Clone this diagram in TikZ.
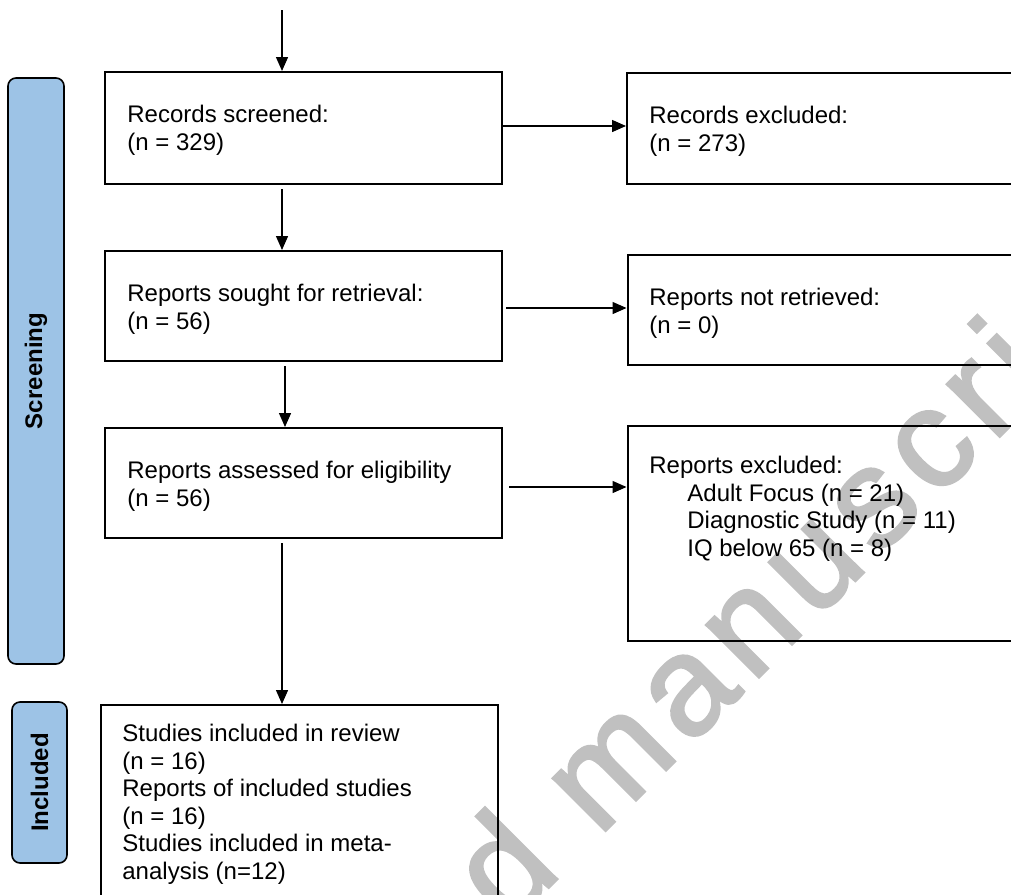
\documentclass[tikz,border=0pt]{standalone}
\usepackage{fontspec}
\setmainfont{Liberation Sans}
\newfontfamily\wmfont[LetterSpace=8,FakeBold=2]{Liberation Sans}
\usetikzlibrary{arrows.meta}
\definecolor{barblue}{HTML}{9DC3E6}
\definecolor{wmgrey}{HTML}{C0C0C0}
\tikzset{
  box/.style={draw=black, line width=1pt, inner sep=0pt},
  bar/.style={draw=black, line width=0.8pt, fill=barblue, rounded corners=4pt, inner sep=0pt},
  txt/.style={anchor=north west, inner sep=0pt, align=left, font=\fontsize{12pt}{13.8pt}\selectfont},
  lbl/.style={rotate=90, inner sep=0pt, font=\fontsize{12pt}{14pt}\selectfont\bfseries},
  arr/.style={line width=0.7pt, -{Triangle[length=7pt,width=6pt]}},
  wmark/.style={text=wmgrey, inner sep=0pt, font=\wmfont\fontsize{70pt}{72pt}\selectfont},
}
\begin{document}
\begin{tikzpicture}[x=0.5pt,y=-0.5pt]
\useasboundingbox (0,0) rectangle (1011,894);
\clip (0,0) rectangle (1011,894);
% watermark
\node[wmark, anchor=base west, rotate=45] (wm) at (95,1341) {Accepted manuscript};
% side bars
\node[bar, minimum width=28pt, minimum height=293pt] (scr) at (36,371) {};
\node[lbl] (scrl) at (36,371) {Screening};
\node[bar, minimum width=27.5pt, minimum height=80.5pt] (inc) at (39.5,782.5) {};
\node[lbl] (incl) at (39.5,782.5) {Included};
% left boxes
\node[box, minimum width=198.5pt, minimum height=56pt] (b1) at (303.5,128) {};
\node[box, minimum width=198.5pt, minimum height=55pt] (b2) at (303.5,306) {};
\node[box, minimum width=198.5pt, minimum height=55pt] (b3) at (303.5,483) {};
\node[box, minimum width=198.5pt, minimum height=125pt] (b4) at (299.5,830) {};
% right boxes
\node[box, minimum width=242pt, minimum height=55.5pt] (r1) at (869,128.5) {};
\node[box, minimum width=242pt, minimum height=55pt] (r2) at (869.5,310) {};
\node[box, minimum width=242pt, minimum height=107.5pt] (r3) at (869.5,533.5) {};
% texts
\node[txt] (t1) at (127,102) {\rule{0pt}{10pt}Records screened:\\(n = 329)};
\node[txt] (t2) at (127,281) {\rule{0pt}{10pt}Reports sought for retrieval:\\(n = 56)};
\node[txt] (t3) at (127,458) {\rule{0pt}{10pt}Reports assessed for eligibility\\(n = 56)};
\node[txt] (t4) at (122,721) {\rule{0pt}{10pt}Studies included in review\\(n = 16)\\Reports of included studies\\(n = 16)\\Studies included in meta-\\analysis (n=12)};
\node[txt] (s1) at (649,103) {\rule{0pt}{10pt}Records excluded:\\(n = 273)};
\node[txt] (s2) at (649,285) {\rule{0pt}{10pt}Reports not retrieved:\\(n = 0)};
\node[txt] (s3) at (649,453) {\rule{0pt}{10pt}Reports excluded:\\\hspace*{19pt}Adult Focus (n = 21)\\\hspace*{19pt}Diagnostic Study (n = 11)\\\hspace*{19pt}IQ below 65 (n = 8)};
% connectors
\coordinate (top) at (282,10);
\coordinate (ax1) at (282,0);
\coordinate (ax2) at (285,0);
\coordinate (ay1) at (0,126);
\coordinate (ay2) at (0,308);
\coordinate (ay3) at (0,487);
\draw[arr] (top) -- (top |- b1.north);
\draw[arr, shorten <=2pt] (b1.south -| ax1) -- (b2.north -| ax1);
\draw[arr, shorten <=2pt] (b2.south -| ax2) -- (b3.north -| ax2);
\draw[arr, shorten <=2pt] (b3.south -| ax1) -- (b4.north -| ax1);
\draw[arr] (b1.east |- ay1) -- (r1.west |- ay1);
\draw[arr, shorten <=1.5pt] (b2.east |- ay2) -- (r2.west |- ay2);
\draw[arr, shorten <=3pt] (b3.east |- ay3) -- (r3.west |- ay3);
\end{tikzpicture}
\end{document}
